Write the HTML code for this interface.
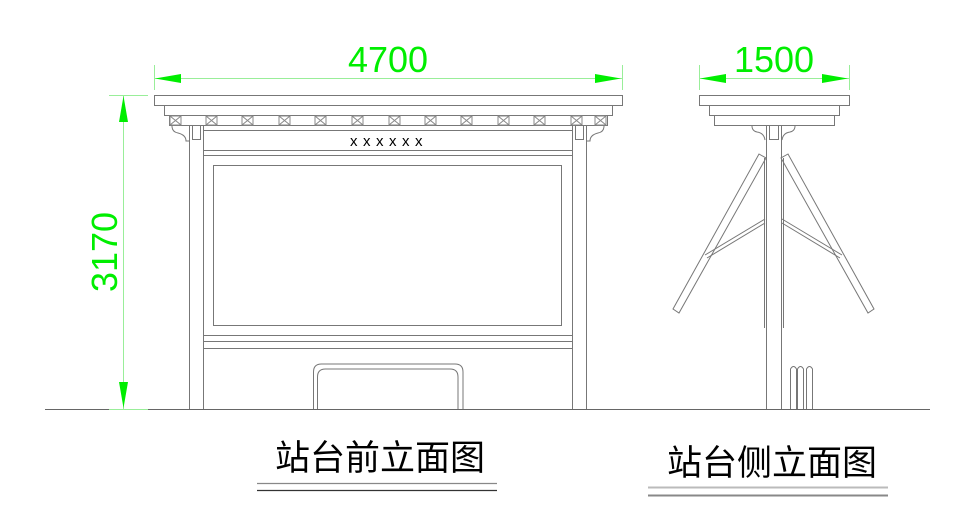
<!DOCTYPE html>
<html><head><meta charset="utf-8"><style>
body{margin:0;background:#fff;width:970px;height:510px;overflow:hidden}
</style></head><body>
<svg width="970" height="510" viewBox="0 0 970 510" xmlns="http://www.w3.org/2000/svg" style="display:block">
<g fill="none" stroke="#777" stroke-width="1">
<line x1="45" y1="409.5" x2="930" y2="409.5" stroke="#666"/>
<rect x="154.5" y="95.5" width="468" height="10"/>
<rect x="164.5" y="105.5" width="448" height="10"/>
<rect x="169.5" y="115.5" width="438" height="10"/>
<g stroke="#888">
<rect x="170" y="116" width="11" height="9"/><path d="M170 116l11 9M181 116l-11 9"/>
<rect x="206" y="116" width="11" height="9"/><path d="M206 116l11 9M217 116l-11 9"/>
<rect x="242" y="116" width="11" height="9"/><path d="M242 116l11 9M253 116l-11 9"/>
<rect x="279" y="116" width="11" height="9"/><path d="M279 116l11 9M290 116l-11 9"/>
<rect x="315" y="116" width="11" height="9"/><path d="M315 116l11 9M326 116l-11 9"/>
<rect x="352" y="116" width="11" height="9"/><path d="M352 116l11 9M363 116l-11 9"/>
<rect x="389" y="116" width="11" height="9"/><path d="M389 116l11 9M400 116l-11 9"/>
<rect x="425" y="116" width="11" height="9"/><path d="M425 116l11 9M436 116l-11 9"/>
<rect x="461" y="116" width="11" height="9"/><path d="M461 116l11 9M472 116l-11 9"/>
<rect x="498" y="116" width="11" height="9"/><path d="M498 116l11 9M509 116l-11 9"/>
<rect x="534" y="116" width="11" height="9"/><path d="M534 116l11 9M545 116l-11 9"/>
<rect x="571" y="116" width="11" height="9"/><path d="M571 116l11 9M582 116l-11 9"/>
<rect x="595" y="116" width="11" height="9"/><path d="M595 116l11 9M606 116l-11 9"/>
</g>
<line x1="189.5" y1="125" x2="189.5" y2="409"/>
<line x1="203.5" y1="125" x2="203.5" y2="409"/>
<line x1="572.5" y1="125" x2="572.5" y2="409"/>
<line x1="586.5" y1="125" x2="586.5" y2="409"/>
<rect x="192.5" y="125.5" width="8" height="14"/>
<rect x="575.5" y="125.5" width="8" height="14"/>
<path d="M172 126 q0 6 6 7 q8 2 8 8 l3 0"/>
<path d="M604 126 q0 6 -6 7 q-8 2 -8 8 l-3 0"/>
<line x1="203" y1="130.5" x2="572" y2="130.5"/>
<line x1="203" y1="150.5" x2="572" y2="150.5"/>
<line x1="203" y1="155.5" x2="572" y2="155.5"/>
<rect x="213.5" y="165.5" width="348" height="160"/>
<line x1="203" y1="335.5" x2="572" y2="335.5"/>
<line x1="203" y1="341.5" x2="572" y2="341.5"/>
<line x1="203" y1="348.5" x2="572" y2="348.5"/>
<path d="M313.5 409 V372 q0 -8 8 -8 H455 q8 0 8 8 V409"/>
<path d="M317.5 409 V377 q0 -8 8 -8 H450 q8 0 8 8 V409"/>
<rect x="699.5" y="95.5" width="150" height="10"/>
<rect x="709.5" y="105.5" width="130" height="10"/>
<rect x="714.5" y="115.5" width="120" height="10"/>
<line x1="766.5" y1="125" x2="766.5" y2="409"/>
<line x1="781.5" y1="125" x2="781.5" y2="409"/>
<rect x="769.5" y="125.5" width="9" height="14"/>
<path d="M752 126 q0 5 5 6 q7 1 8 8"/>
<path d="M795 126 q0 5 -5 6 q-7 1 -8 8"/>
<line x1="764.5" y1="158" x2="764.5" y2="328"/>
<line x1="783.5" y1="158" x2="783.5" y2="328"/>
<polygon points="759,154 766,158 679,313 673,309"/>
<polygon points="788,154 781,158 868,313 874,309"/>
<path d="M765 219 L705 255 M765 223 L707 258"/>
<path d="M782 219 L842 255 M782 223 L840 258"/>
<path d="M790.5 409 V369 q3 -5 6 0 V409 M797.5 409 V369 q3 -5 6 0 V409 M806.5 409 V369 q3 -5 6 0 V409"/>
</g>
<text x="389" y="146" font-family="Liberation Sans, sans-serif" font-size="15" text-anchor="middle" fill="#000" letter-spacing="5.5">xxxxxx</text>
<g stroke="#99ee99" stroke-width="1">
<line x1="154.5" y1="65" x2="154.5" y2="90"/>
<line x1="622.5" y1="65" x2="622.5" y2="90"/>
<line x1="154" y1="78.5" x2="622" y2="78.5"/>
<line x1="699.5" y1="65" x2="699.5" y2="90"/>
<line x1="849.5" y1="65" x2="849.5" y2="90"/>
<line x1="699" y1="78.5" x2="849" y2="78.5"/>
<line x1="109" y1="95.5" x2="148" y2="95.5"/>
<line x1="109" y1="409.5" x2="148" y2="409.5"/>
<line x1="123.5" y1="95" x2="123.5" y2="409"/>
</g>
<g fill="#00ee00">
<polygon points="155,78.5 181,74 181,83"/>
<polygon points="621,78.5 595,74 595,83"/>
<polygon points="700,78.5 726,74 726,83"/>
<polygon points="848,78.5 822,74 822,83"/>
<polygon points="123.5,96 119,122 128,122"/>
<polygon points="123.5,408 119,382 128,382"/>
</g>
<g font-family="Liberation Sans, sans-serif" font-size="36" fill="#00ee00" text-anchor="middle">
<text x="388" y="72">4700</text>
<text x="774" y="72">1500</text>
<text transform="translate(117,252) rotate(-90)">3170</text>
</g>
<g font-family="Liberation Sans, 'Noto Sans CJK SC', sans-serif" font-size="35" fill="#000" text-anchor="middle">
<text x="380" y="470">站台前立面图</text>
<text x="772" y="475">站台侧立面图</text>
</g>
<g stroke-width="1.2">
<line x1="257" y1="483.5" x2="497" y2="483.5" stroke="#888"/>
<line x1="257" y1="490.5" x2="497" y2="490.5" stroke="#333"/>
<line x1="648" y1="487.5" x2="888" y2="487.5" stroke="#bbb" stroke-width="2"/>
<line x1="648" y1="495.5" x2="888" y2="495.5" stroke="#888" stroke-width="2"/>
</g>
</svg>
</body></html>
